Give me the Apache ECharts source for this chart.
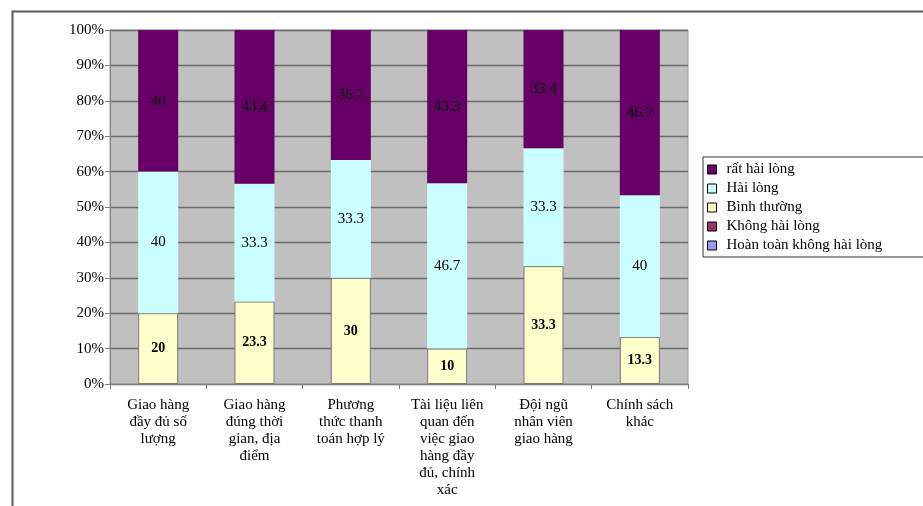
<!DOCTYPE html>
<html>
<head>
<meta charset="utf-8">
<script src="https://cdn.jsdelivr.net/npm/echarts@6/dist/echarts.min.js"></script>
<style>
html,body{margin:0;padding:0;background:#fff;}
#chart{width:923px;height:506px;}
</style>
</head>
<body>
<div id="chart"></div>
<script>
const categories = [
  "Giao hàng\nđầy đủ số\nlượng",
  "Giao hàng\nđúng thời\ngian, địa\nđiểm",
  "Phương\nthức thanh\ntoán hợp lý",
  "Tài liệu liên\nquan đến\nviệc giao\nhàng đầy\nđủ, chính\nxác",
  "Đội ngũ\nnhân viên\ngiao hàng",
  "Chính sách\nkhác"
];
const hoanToanKhongHaiLong = [0, 0, 0, 0, 0, 0];
const khongHaiLong = [0, 0, 0, 0, 0, 0];
const binhThuong = [20, 23.3, 30, 10, 33.3, 13.3];
const haiLong = [40, 33.3, 33.3, 46.7, 33.3, 40];
const ratHaiLong = [40, 43.4, 36.7, 43.3, 33.4, 46.7];
const yTicks = [0, 10, 20, 30, 40, 50, 60, 70, 80, 90, 100];

const FONT = "'Liberation Serif', 'Times New Roman', serif";
const chart = echarts.init(document.getElementById('chart'), null, {renderer: 'canvas'});

function lbl(bold) {
  return {
    show: true, position: 'inside', color: '#000',
    fontFamily: FONT, fontSize: bold ? 14 : 15, fontWeight: bold ? 'bold' : 'normal',
    formatter: p => (p.value ? String(p.value) : '')
  };
}

chart.setOption({
  animation: false,
  backgroundColor: '#fff',
  graphic: [{
    type: 'rect', left: 10, top: 9, silent: true, z: 100,
    shape: {width: 1000, height: 600},
    style: {fill: 'none', stroke: '#5a5a5a', lineWidth: 2}
  }],
  grid: {
    left: 110, right: 235, top: 30, bottom: 122,
    show: true, backgroundColor: '#c0c0c0', borderColor: '#a0a0a0', borderWidth: 1
  },
  legend: {
    orient: 'vertical', left: 703, top: 157,
    padding: [4, 70, 3, 4], itemGap: 2,
    borderColor: '#333', borderWidth: 1,
    itemWidth: 9, itemHeight: 9, icon: 'rect',
    itemStyle: {borderColor: '#000', borderWidth: 1},
    textStyle: {fontFamily: FONT, fontSize: 15, color: '#000', lineHeight: 17, padding: [0, 0, 0, 5]},
    data: ['rất hài lòng', 'Hài lòng', 'Bình thường', 'Không hài lòng', 'Hoàn toàn không hài lòng']
  },
  xAxis: {
    type: 'category', data: categories,
    axisLine: {lineStyle: {color: '#808080', width: 1}},
    axisTick: {show: true, length: 5, lineStyle: {color: '#808080'}},
    axisLabel: {interval: 0, margin: 13, color: '#000', fontFamily: FONT, fontSize: 15, lineHeight: 17, align: 'center'}
  },
  yAxis: {
    type: 'value', min: 0, max: 100, interval: 10,
    axisLine: {show: true, lineStyle: {color: '#808080', width: 1}},
    axisTick: {show: true, length: 5, lineStyle: {color: '#808080'}},
    axisLabel: {formatter: v => yTicks.includes(v) ? v + '%' : '', color: '#000', fontFamily: FONT, fontSize: 15, margin: 6},
    splitLine: {show: true, lineStyle: {color: '#6a6a6a', width: 1.3}}
  },
  series: [
    {name: 'Hoàn toàn không hài lòng', type: 'bar', stack: 's', barWidth: 40, data: hoanToanKhongHaiLong,
     itemStyle: {color: '#9999ff', borderWidth: 0}, label: {show: false}},
    {name: 'Không hài lòng', type: 'bar', stack: 's', barWidth: 40, data: khongHaiLong,
     itemStyle: {color: '#993366', borderWidth: 0}, label: {show: false}},
    {name: 'Bình thường', type: 'bar', stack: 's', barWidth: 40, data: binhThuong,
     itemStyle: {color: '#ffffcc', borderColor: '#7a7a7a', borderWidth: 1}, label: lbl(true)},
    {name: 'Hài lòng', type: 'bar', stack: 's', barWidth: 40, data: haiLong,
     itemStyle: {color: '#ccffff', borderWidth: 0}, label: lbl(false)},
    {name: 'rất hài lòng', type: 'bar', stack: 's', barWidth: 40, data: ratHaiLong,
     itemStyle: {color: '#660066', borderWidth: 0}, label: lbl(false)}
  ]
});
</script>
</body>
</html>
